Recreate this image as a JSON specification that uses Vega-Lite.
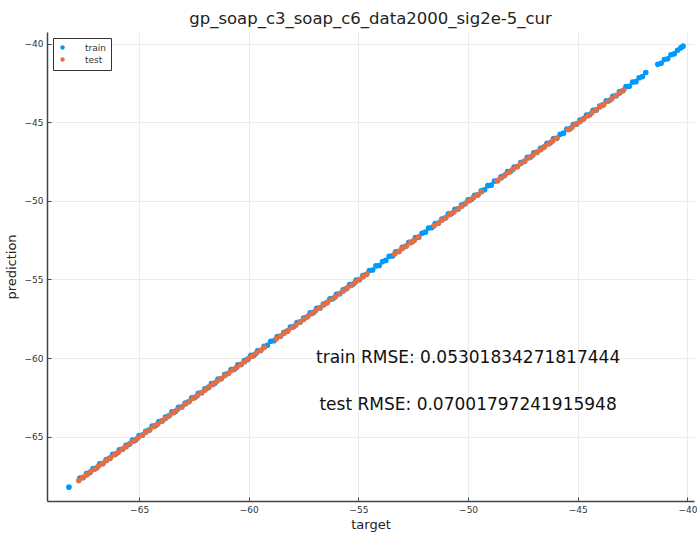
{
  "$schema": "https://vega.github.io/schema/vega-lite/v6.json",
  "autosize": "none",
  "width": 647,
  "height": 469,
  "padding": {"left": 47, "top": 32, "right": 3, "bottom": 32},
  "background": "white",
  "config": {"view": {"stroke": null}, "font": "DejaVu Sans"},
  "title": {"text": "gp_soap_c3_soap_c6_data2000_sig2e-5_cur", "fontSize": 16.5, "fontWeight": "normal", "color": "#222", "offset": 5, "anchor": "middle"},
  "datasets": {
    "pts": [
{"s":"train","t":-68.2,"p":-68.22},
{"s":"train","t":-67.7,"p":-67.64},{"s":"train","t":-67.55,"p":-67.61},{"s":"train","t":-67.4,"p":-67.36},{"s":"train","t":-67.25,"p":-67.29},{"s":"train","t":-67.1,"p":-67.03},{"s":"train","t":-66.95,"p":-67.0},
{"s":"train","t":-66.8,"p":-66.74},{"s":"train","t":-66.65,"p":-66.71},{"s":"train","t":-66.5,"p":-66.46},{"s":"train","t":-66.35,"p":-66.39},{"s":"train","t":-66.2,"p":-66.13},{"s":"train","t":-66.05,"p":-66.1},
{"s":"train","t":-65.9,"p":-65.84},{"s":"train","t":-65.75,"p":-65.81},{"s":"train","t":-65.6,"p":-65.56},{"s":"train","t":-65.45,"p":-65.49},{"s":"train","t":-65.3,"p":-65.23},{"s":"train","t":-65.15,"p":-65.2},
{"s":"train","t":-65.0,"p":-64.94},{"s":"train","t":-64.85,"p":-64.91},{"s":"train","t":-64.7,"p":-64.66},{"s":"train","t":-64.55,"p":-64.59},{"s":"train","t":-64.4,"p":-64.33},{"s":"train","t":-64.25,"p":-64.3},
{"s":"train","t":-64.1,"p":-64.04},{"s":"train","t":-63.95,"p":-64.01},{"s":"train","t":-63.8,"p":-63.76},{"s":"train","t":-63.65,"p":-63.69},{"s":"train","t":-63.5,"p":-63.43},{"s":"train","t":-63.35,"p":-63.4},
{"s":"train","t":-63.2,"p":-63.14},{"s":"train","t":-63.05,"p":-63.11},{"s":"train","t":-62.9,"p":-62.86},{"s":"train","t":-62.75,"p":-62.79},{"s":"train","t":-62.6,"p":-62.53},{"s":"train","t":-62.45,"p":-62.5},
{"s":"train","t":-62.3,"p":-62.24},{"s":"train","t":-62.15,"p":-62.21},{"s":"train","t":-62.0,"p":-61.96},{"s":"train","t":-61.85,"p":-61.89},{"s":"train","t":-61.7,"p":-61.63},{"s":"train","t":-61.55,"p":-61.6},
{"s":"train","t":-61.4,"p":-61.34},{"s":"train","t":-61.25,"p":-61.31},{"s":"train","t":-61.1,"p":-61.06},{"s":"train","t":-60.95,"p":-60.99},{"s":"train","t":-60.8,"p":-60.73},{"s":"train","t":-60.65,"p":-60.7},
{"s":"train","t":-60.5,"p":-60.44},{"s":"train","t":-60.35,"p":-60.41},{"s":"train","t":-60.2,"p":-60.16},{"s":"train","t":-60.05,"p":-60.09},{"s":"train","t":-59.9,"p":-59.83},{"s":"train","t":-59.75,"p":-59.8},
{"s":"train","t":-59.6,"p":-59.54},{"s":"train","t":-59.45,"p":-59.51},{"s":"train","t":-59.3,"p":-59.26},{"s":"train","t":-59.15,"p":-59.19},{"s":"train","t":-59.0,"p":-58.93},{"s":"train","t":-58.85,"p":-58.9},
{"s":"train","t":-58.7,"p":-58.64},{"s":"train","t":-58.55,"p":-58.61},{"s":"train","t":-58.4,"p":-58.36},{"s":"train","t":-58.25,"p":-58.29},{"s":"train","t":-58.1,"p":-58.03},{"s":"train","t":-57.95,"p":-58.0},
{"s":"train","t":-57.8,"p":-57.74},{"s":"train","t":-57.65,"p":-57.71},{"s":"train","t":-57.5,"p":-57.46},{"s":"train","t":-57.35,"p":-57.39},{"s":"train","t":-57.2,"p":-57.13},{"s":"train","t":-57.05,"p":-57.1},
{"s":"train","t":-56.9,"p":-56.84},{"s":"train","t":-56.75,"p":-56.81},{"s":"train","t":-56.6,"p":-56.56},{"s":"train","t":-56.45,"p":-56.49},{"s":"train","t":-56.3,"p":-56.23},{"s":"train","t":-56.15,"p":-56.2},
{"s":"train","t":-56.0,"p":-55.94},{"s":"train","t":-55.85,"p":-55.91},{"s":"train","t":-55.7,"p":-55.66},{"s":"train","t":-55.55,"p":-55.59},{"s":"train","t":-55.4,"p":-55.33},{"s":"train","t":-55.25,"p":-55.3},
{"s":"train","t":-55.1,"p":-55.04},{"s":"train","t":-54.95,"p":-55.01},{"s":"train","t":-54.8,"p":-54.76},{"s":"train","t":-54.65,"p":-54.69},{"s":"train","t":-54.5,"p":-54.43},{"s":"train","t":-54.35,"p":-54.4},
{"s":"train","t":-54.2,"p":-54.14},{"s":"train","t":-54.05,"p":-54.11},{"s":"train","t":-53.9,"p":-53.86},{"s":"train","t":-53.75,"p":-53.79},{"s":"train","t":-53.6,"p":-53.53},{"s":"train","t":-53.45,"p":-53.5},
{"s":"train","t":-53.3,"p":-53.24},{"s":"train","t":-53.15,"p":-53.21},{"s":"train","t":-53.0,"p":-52.96},{"s":"train","t":-52.85,"p":-52.89},{"s":"train","t":-52.7,"p":-52.63},{"s":"train","t":-52.55,"p":-52.6},
{"s":"train","t":-52.4,"p":-52.34},{"s":"train","t":-52.25,"p":-52.31},{"s":"train","t":-52.1,"p":-52.06},{"s":"train","t":-51.95,"p":-51.99},{"s":"train","t":-51.8,"p":-51.73},{"s":"train","t":-51.65,"p":-51.7},
{"s":"train","t":-51.5,"p":-51.44},{"s":"train","t":-51.35,"p":-51.41},{"s":"train","t":-51.2,"p":-51.16},{"s":"train","t":-51.05,"p":-51.09},{"s":"train","t":-50.9,"p":-50.83},{"s":"train","t":-50.75,"p":-50.8},
{"s":"train","t":-50.6,"p":-50.54},{"s":"train","t":-50.45,"p":-50.51},{"s":"train","t":-50.3,"p":-50.26},{"s":"train","t":-50.15,"p":-50.19},{"s":"train","t":-50.0,"p":-49.93},{"s":"train","t":-49.85,"p":-49.9},
{"s":"train","t":-49.7,"p":-49.64},{"s":"train","t":-49.55,"p":-49.61},{"s":"train","t":-49.4,"p":-49.36},{"s":"train","t":-49.25,"p":-49.29},{"s":"train","t":-49.1,"p":-49.03},{"s":"train","t":-48.95,"p":-49.0},
{"s":"train","t":-48.8,"p":-48.74},{"s":"train","t":-48.65,"p":-48.71},{"s":"train","t":-48.5,"p":-48.46},{"s":"train","t":-48.35,"p":-48.39},{"s":"train","t":-48.2,"p":-48.13},{"s":"train","t":-48.05,"p":-48.1},
{"s":"train","t":-47.9,"p":-47.84},{"s":"train","t":-47.75,"p":-47.81},{"s":"train","t":-47.6,"p":-47.56},{"s":"train","t":-47.45,"p":-47.49},{"s":"train","t":-47.3,"p":-47.23},{"s":"train","t":-47.15,"p":-47.2},
{"s":"train","t":-47.0,"p":-46.94},{"s":"train","t":-46.85,"p":-46.91},{"s":"train","t":-46.7,"p":-46.66},{"s":"train","t":-46.55,"p":-46.59},{"s":"train","t":-46.4,"p":-46.33},{"s":"train","t":-46.25,"p":-46.3},
{"s":"train","t":-46.1,"p":-46.04},{"s":"train","t":-45.95,"p":-46.01},{"s":"train","t":-45.8,"p":-45.76},{"s":"train","t":-45.65,"p":-45.69},{"s":"train","t":-45.5,"p":-45.43},{"s":"train","t":-45.35,"p":-45.4},
{"s":"train","t":-45.2,"p":-45.14},{"s":"train","t":-45.05,"p":-45.11},{"s":"train","t":-44.9,"p":-44.86},{"s":"train","t":-44.75,"p":-44.79},{"s":"train","t":-44.6,"p":-44.53},{"s":"train","t":-44.45,"p":-44.5},
{"s":"train","t":-44.3,"p":-44.24},{"s":"train","t":-44.15,"p":-44.21},{"s":"train","t":-44.0,"p":-43.96},{"s":"train","t":-43.85,"p":-43.89},{"s":"train","t":-43.7,"p":-43.63},{"s":"train","t":-43.55,"p":-43.6},
{"s":"train","t":-43.4,"p":-43.34},{"s":"train","t":-43.25,"p":-43.31},{"s":"train","t":-43.1,"p":-43.06},{"s":"train","t":-42.95,"p":-42.99},{"s":"train","t":-42.8,"p":-42.73},{"s":"train","t":-42.65,"p":-42.7},
{"s":"train","t":-42.5,"p":-42.44},{"s":"train","t":-42.35,"p":-42.41},{"s":"train","t":-42.2,"p":-42.16},{"s":"train","t":-42.05,"p":-42.09},{"s":"train","t":-41.9,"p":-41.83},
{"s":"train","t":-41.35,"p":-41.31},{"s":"train","t":-41.2,"p":-41.24},{"s":"train","t":-41.05,"p":-41.0},{"s":"train","t":-40.9,"p":-40.95},{"s":"train","t":-40.75,"p":-40.7},{"s":"train","t":-40.6,"p":-40.64},
{"s":"train","t":-40.45,"p":-40.41},{"s":"train","t":-40.3,"p":-40.26},{"s":"train","t":-40.2,"p":-40.15},
{"s":"test","t":-67.75,"p":-67.8},{"s":"test","t":-67.57,"p":-67.6},{"s":"test","t":-67.39,"p":-67.44},{"s":"test","t":-67.21,"p":-67.24},{"s":"test","t":-67.03,"p":-67.08},{"s":"test","t":-66.85,"p":-66.88},
{"s":"test","t":-66.67,"p":-66.72},{"s":"test","t":-66.49,"p":-66.52},{"s":"test","t":-66.31,"p":-66.36},{"s":"test","t":-66.13,"p":-66.16},{"s":"test","t":-65.95,"p":-66.0},{"s":"test","t":-65.77,"p":-65.8},
{"s":"test","t":-65.59,"p":-65.64},{"s":"test","t":-65.41,"p":-65.44},{"s":"test","t":-65.23,"p":-65.28},{"s":"test","t":-65.05,"p":-65.08},{"s":"test","t":-64.87,"p":-64.92},{"s":"test","t":-64.69,"p":-64.72},
{"s":"test","t":-64.51,"p":-64.56},{"s":"test","t":-64.33,"p":-64.36},{"s":"test","t":-64.15,"p":-64.2},{"s":"test","t":-63.97,"p":-64.0},{"s":"test","t":-63.79,"p":-63.84},{"s":"test","t":-63.61,"p":-63.64},
{"s":"test","t":-63.43,"p":-63.48},{"s":"test","t":-63.25,"p":-63.28},{"s":"test","t":-63.07,"p":-63.12},{"s":"test","t":-62.89,"p":-62.92},{"s":"test","t":-62.71,"p":-62.76},{"s":"test","t":-62.53,"p":-62.56},
{"s":"test","t":-62.35,"p":-62.4},{"s":"test","t":-62.17,"p":-62.2},{"s":"test","t":-61.99,"p":-62.04},{"s":"test","t":-61.81,"p":-61.84},{"s":"test","t":-61.63,"p":-61.68},{"s":"test","t":-61.45,"p":-61.48},
{"s":"test","t":-61.27,"p":-61.32},{"s":"test","t":-61.09,"p":-61.12},{"s":"test","t":-60.91,"p":-60.96},{"s":"test","t":-60.73,"p":-60.76},{"s":"test","t":-60.55,"p":-60.6},{"s":"test","t":-60.37,"p":-60.4},
{"s":"test","t":-60.19,"p":-60.24},{"s":"test","t":-60.01,"p":-60.04},{"s":"test","t":-59.83,"p":-59.88},{"s":"test","t":-59.65,"p":-59.68},{"s":"test","t":-59.47,"p":-59.52},{"s":"test","t":-59.29,"p":-59.32},
{"s":"test","t":-58.75,"p":-58.78},{"s":"test","t":-58.57,"p":-58.62},{"s":"test","t":-58.39,"p":-58.42},{"s":"test","t":-58.21,"p":-58.26},{"s":"test","t":-58.03,"p":-58.06},{"s":"test","t":-57.85,"p":-57.9},
{"s":"test","t":-57.67,"p":-57.7},{"s":"test","t":-57.49,"p":-57.54},{"s":"test","t":-57.31,"p":-57.34},{"s":"test","t":-57.13,"p":-57.18},{"s":"test","t":-56.95,"p":-56.98},{"s":"test","t":-56.77,"p":-56.82},
{"s":"test","t":-56.59,"p":-56.62},{"s":"test","t":-56.41,"p":-56.46},{"s":"test","t":-56.23,"p":-56.26},{"s":"test","t":-56.05,"p":-56.1},{"s":"test","t":-55.87,"p":-55.9},{"s":"test","t":-55.69,"p":-55.74},
{"s":"test","t":-55.51,"p":-55.54},{"s":"test","t":-55.33,"p":-55.38},{"s":"test","t":-55.15,"p":-55.18},{"s":"test","t":-54.97,"p":-55.02},{"s":"test","t":-54.79,"p":-54.82},{"s":"test","t":-54.61,"p":-54.66},
{"s":"test","t":-53.35,"p":-53.38},{"s":"test","t":-53.17,"p":-53.22},{"s":"test","t":-52.99,"p":-53.02},{"s":"test","t":-52.81,"p":-52.86},{"s":"test","t":-52.63,"p":-52.66},{"s":"test","t":-52.45,"p":-52.5},
{"s":"test","t":-52.27,"p":-52.3},{"s":"test","t":-51.55,"p":-51.58},{"s":"test","t":-51.37,"p":-51.42},{"s":"test","t":-51.19,"p":-51.22},{"s":"test","t":-51.01,"p":-51.06},{"s":"test","t":-50.83,"p":-50.86},
{"s":"test","t":-50.65,"p":-50.7},{"s":"test","t":-50.47,"p":-50.5},{"s":"test","t":-50.29,"p":-50.34},{"s":"test","t":-50.11,"p":-50.14},{"s":"test","t":-49.93,"p":-49.98},{"s":"test","t":-49.75,"p":-49.78},
{"s":"test","t":-49.57,"p":-49.62},{"s":"test","t":-49.39,"p":-49.42},{"s":"test","t":-48.67,"p":-48.7},{"s":"test","t":-48.49,"p":-48.54},{"s":"test","t":-48.31,"p":-48.34},{"s":"test","t":-48.13,"p":-48.18},
{"s":"test","t":-47.95,"p":-47.98},{"s":"test","t":-47.77,"p":-47.82},{"s":"test","t":-47.59,"p":-47.62},{"s":"test","t":-47.41,"p":-47.46},{"s":"test","t":-47.23,"p":-47.26},{"s":"test","t":-47.05,"p":-47.1},
{"s":"test","t":-46.87,"p":-46.9},{"s":"test","t":-46.69,"p":-46.74},{"s":"test","t":-46.51,"p":-46.54},{"s":"test","t":-46.33,"p":-46.38},{"s":"test","t":-46.15,"p":-46.18},{"s":"test","t":-45.97,"p":-46.02},
{"s":"test","t":-45.43,"p":-45.46},{"s":"test","t":-45.25,"p":-45.3},{"s":"test","t":-45.07,"p":-45.1},{"s":"test","t":-44.89,"p":-44.94},{"s":"test","t":-44.71,"p":-44.74},{"s":"test","t":-44.53,"p":-44.58},
{"s":"test","t":-44.35,"p":-44.38},{"s":"test","t":-44.17,"p":-44.22},{"s":"test","t":-43.99,"p":-44.02},{"s":"test","t":-43.81,"p":-43.86},{"s":"test","t":-43.63,"p":-43.66},{"s":"test","t":-43.45,"p":-43.5},
{"s":"test","t":-43.27,"p":-43.3},{"s":"test","t":-43.09,"p":-43.14},{"s":"test","t":-42.91,"p":-42.94}
    ],
    "notes": [
      {"t": -50, "p": -60, "label": "train RMSE: 0.05301834271817444"},
      {"t": -50, "p": -63, "label": "test RMSE: 0.07001797241915948"}
    ]
  },
  "layer": [
    {
      "data": {"name": "pts"},
      "mark": {"type": "circle", "size": 32, "opacity": 1},
      "encoding": {
        "x": {"field": "t", "type": "quantitative", "scale": {"domain": [-69.2, -39.7], "nice": false, "zero": false},
          "axis": {"title": "target", "values": [-65, -60, -55, -50, -45, -40], "titleFontSize": 13, "titleFontWeight": "normal", "titleColor": "#222", "labelFontSize": 9, "labelColor": "#333", "domainColor": "#444", "domainWidth": 1.5, "tickColor": "#444", "tickSize": -4, "labelPadding": 8, "gridColor": "#ebebeb", "titlePadding": 4}},
        "y": {"field": "p", "type": "quantitative", "scale": {"domain": [-69.1, -39.25], "nice": false, "zero": false},
          "axis": {"title": "prediction", "values": [-65, -60, -55, -50, -45, -40], "titleFontSize": 13, "titleFontWeight": "normal", "titleColor": "#222", "labelFontSize": 9, "labelColor": "#333", "domainColor": "#444", "domainWidth": 1.5, "tickColor": "#444", "tickSize": -4, "labelPadding": 8, "gridColor": "#ebebeb", "titlePadding": 6}},
        "color": {"field": "s", "type": "nominal", "scale": {"domain": ["train", "test"], "range": ["#009AFA", "#E26F46"]},
          "legend": {"title": null, "orient": "top-left", "offset": 6, "strokeColor": "#333", "padding": 5, "labelFontSize": 9, "labelColor": "#333", "symbolSize": 20, "symbolType": "circle", "rowPadding": 2, "labelOffset": 18, "fillColor": "white"}}
      }
    },
    {
      "data": {"name": "notes"},
      "mark": {"type": "text", "fontSize": 17, "color": "#111", "align": "center", "baseline": "middle"},
      "encoding": {
        "x": {"field": "t", "type": "quantitative"},
        "y": {"field": "p", "type": "quantitative"},
        "text": {"field": "label"}
      }
    }
  ]
}
